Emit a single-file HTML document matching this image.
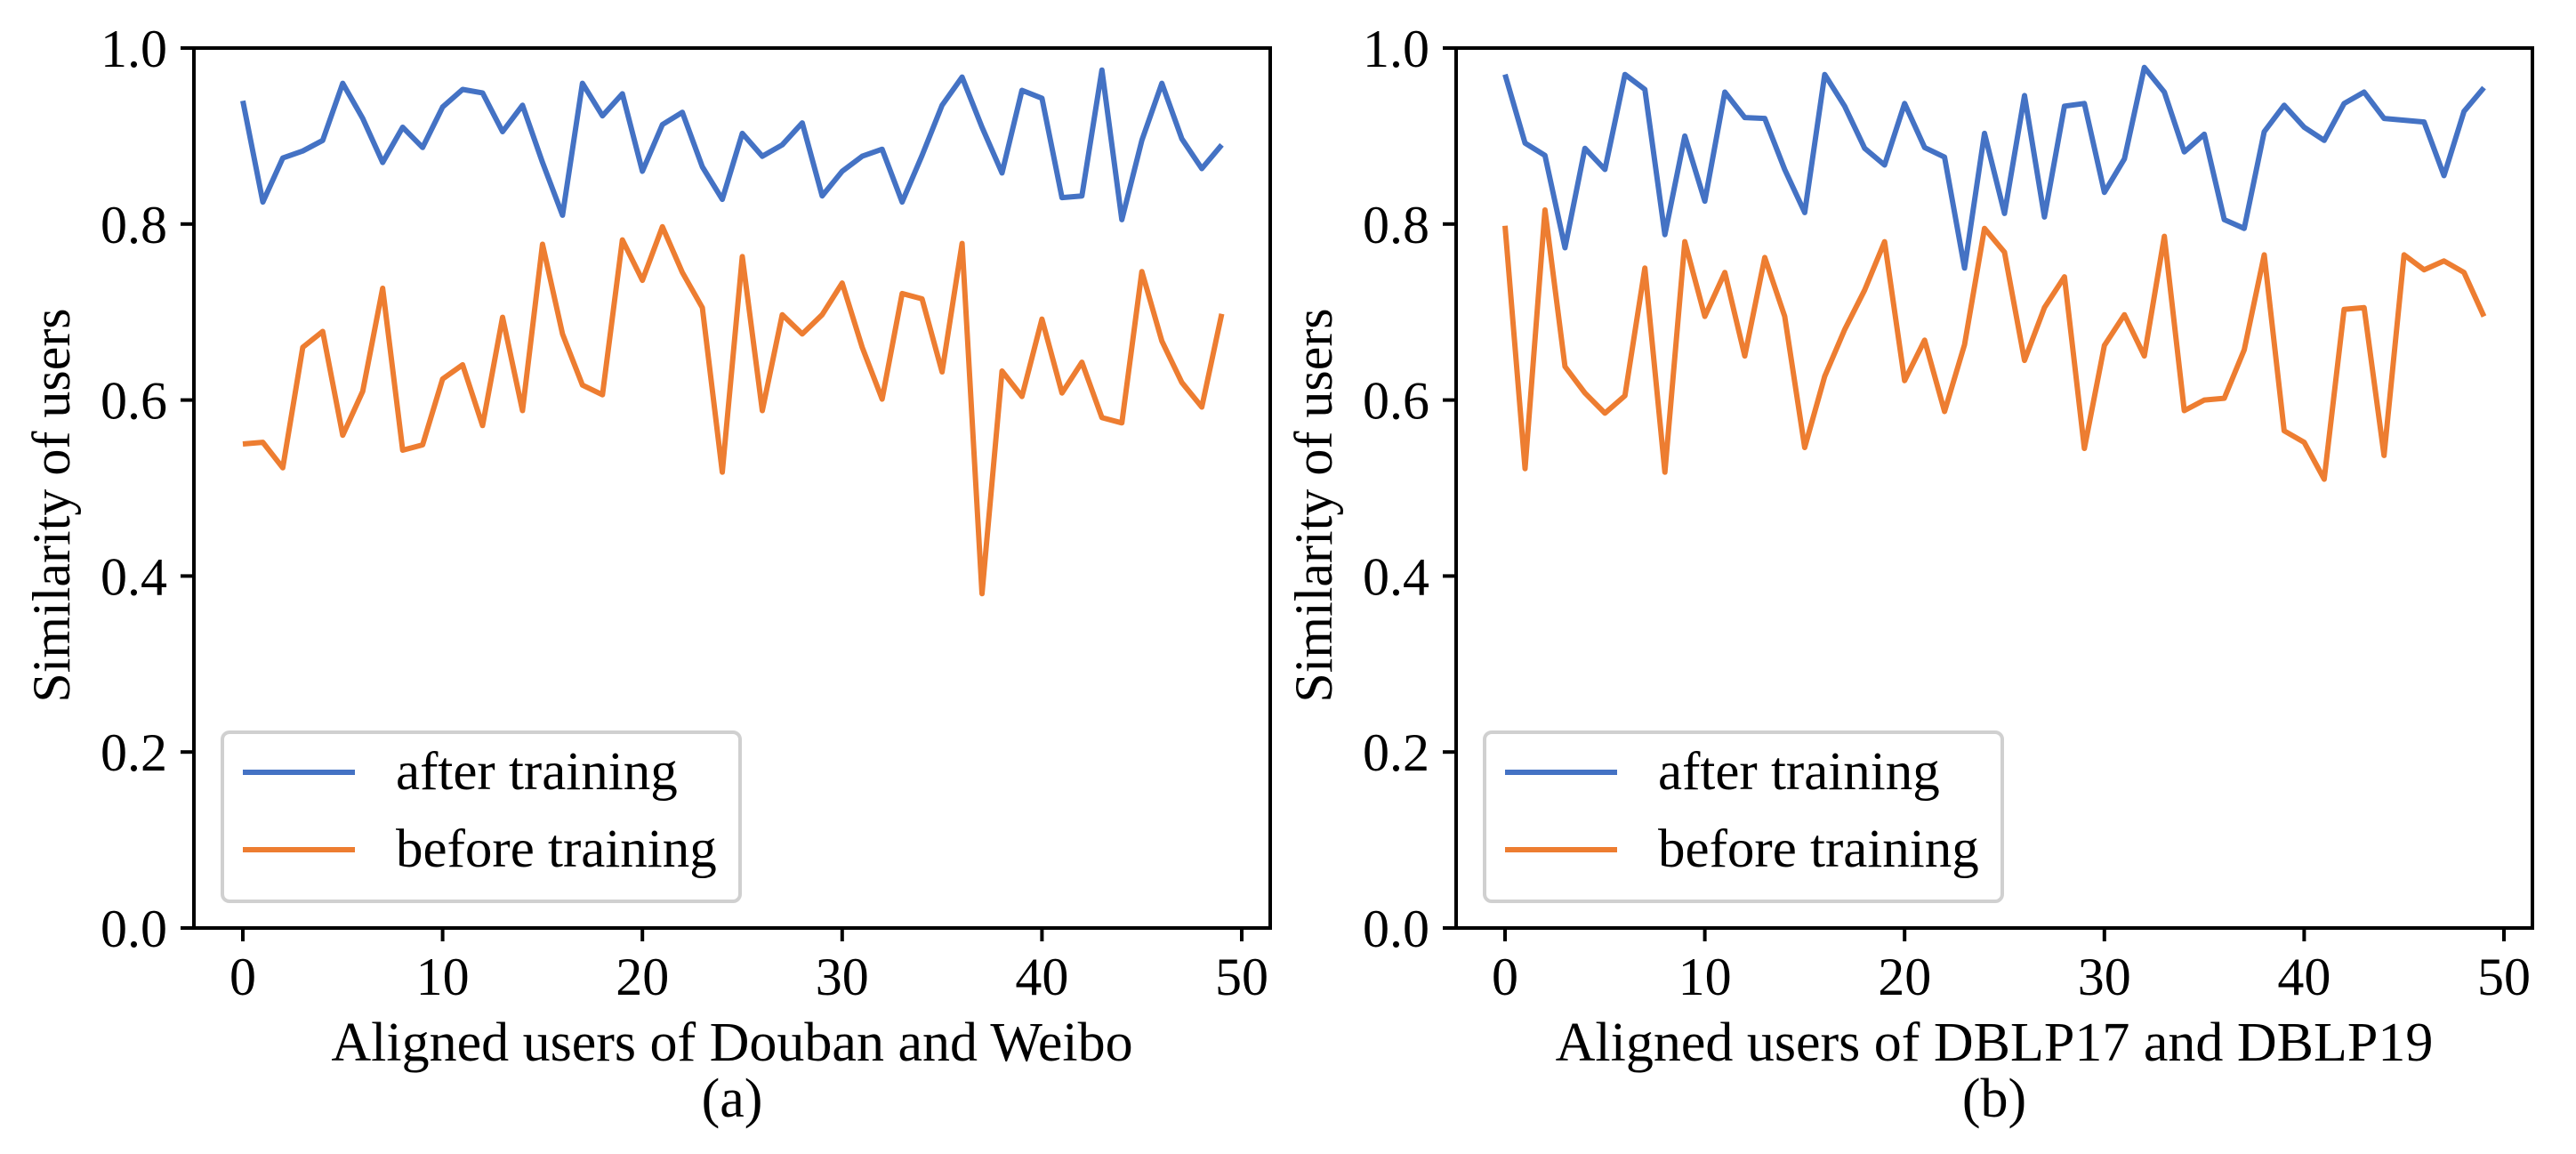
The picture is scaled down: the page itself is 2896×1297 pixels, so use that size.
<!DOCTYPE html>
<html><head><meta charset="utf-8"><style>
body{margin:0;background:#fff;}
svg{display:block;}
text{font-family:"Liberation Serif",serif;fill:#000;}
</style></head><body>
<svg id="chart" width="2896" height="1297" viewBox="0 0 2896 1297" xmlns="http://www.w3.org/2000/svg"></svg>
<script>
const xTicks=[0,10,20,30,40,50];
const yTicks=[0.0,0.2,0.4,0.6,0.8,1.0];
const afterA=[0.94,0.825,0.875,0.883,0.895,0.96,0.92,0.87,0.91,0.887,0.933,0.953,0.949,0.905,0.935,0.87,0.81,0.96,0.923,0.948,0.86,0.913,0.927,0.865,0.828,0.903,0.877,0.89,0.915,0.832,0.86,0.877,0.885,0.825,0.878,0.935,0.967,0.91,0.858,0.952,0.943,0.83,0.832,0.975,0.805,0.895,0.96,0.897,0.863,0.89];
const beforeA=[0.55,0.552,0.523,0.66,0.678,0.56,0.61,0.727,0.543,0.549,0.624,0.64,0.571,0.694,0.588,0.777,0.675,0.617,0.606,0.782,0.736,0.797,0.745,0.705,0.518,0.763,0.588,0.697,0.675,0.697,0.733,0.66,0.601,0.721,0.715,0.632,0.778,0.38,0.633,0.604,0.692,0.608,0.643,0.58,0.574,0.746,0.667,0.62,0.592,0.698];
const afterB=[0.97,0.892,0.878,0.773,0.886,0.862,0.97,0.953,0.788,0.9,0.826,0.95,0.921,0.92,0.862,0.813,0.97,0.934,0.886,0.867,0.937,0.887,0.876,0.75,0.903,0.812,0.946,0.808,0.934,0.937,0.836,0.874,0.978,0.95,0.882,0.902,0.805,0.795,0.905,0.935,0.91,0.895,0.937,0.95,0.92,0.918,0.916,0.855,0.928,0.955];
const beforeB=[0.798,0.522,0.816,0.638,0.608,0.585,0.605,0.75,0.518,0.78,0.695,0.745,0.65,0.762,0.695,0.546,0.627,0.68,0.725,0.78,0.622,0.668,0.587,0.663,0.795,0.768,0.645,0.705,0.74,0.545,0.662,0.697,0.65,0.786,0.588,0.6,0.602,0.657,0.765,0.565,0.552,0.51,0.703,0.705,0.537,0.765,0.748,0.758,0.745,0.695];
const seriesNames=["after training","before training"];
const panels=[
 {id:"a",left:218,xlabel:"Aligned users of Douban and Weibo",cap:"(a)",after:afterA,before:beforeA},
 {id:"b",left:1637,xlabel:"Aligned users of DBLP17 and DBLP19",cap:"(b)",after:afterB,before:beforeB}
];
const NS="http://www.w3.org/2000/svg";
const svg=document.getElementById('chart');
function mk(tag,attrs,parent,txt){const e=document.createElementNS(NS,tag);for(const k in attrs)e.setAttribute(k,attrs[k]);if(txt!==undefined)e.textContent=txt;parent.appendChild(e);return e;}
const TOP=54,BOT=1043,W=1210;
panels.forEach(p=>{
 const g=mk('g',{},svg);
 
 
 const L=p.left;
 const xs=v=>L+55+v*(1123/50);
 const ys=v=>BOT-v*(BOT-TOP);
 const lines=[[p.after,'#4472c4','after'],[p.before,'#ed7d31','before']];
 lines.forEach(([d,c,n])=>{
  const pts=d.map((v,i)=>xs(i).toFixed(1)+','+ys(v).toFixed(1)).join(' ');
  const pl=mk('polyline',{points:pts,fill:'none',stroke:c,'stroke-width':6,'stroke-linejoin':'round'},g);
  
  
 });
 const fr=mk('rect',{x:L,y:TOP,width:W,height:BOT-TOP,fill:'none',stroke:'#000','stroke-width':4},g);
 
 
 xTicks.forEach(t=>{
  mk('line',{x1:xs(t),x2:xs(t),y1:BOT,y2:BOT+15,stroke:'#000','stroke-width':4},g);
  const tx=mk('text',{x:xs(t),y:1118,'font-size':60,'text-anchor':'middle'},g,String(t));
  
  
 });
 yTicks.forEach(t=>{
  mk('line',{x1:L-15,x2:L,y1:ys(t),y2:ys(t),stroke:'#000','stroke-width':4},g);
  const tx=mk('text',{x:L-30,y:ys(t)+21,'font-size':60,'text-anchor':'end'},g,t.toFixed(1));
  
  
 });
 const yl=mk('text',{x:0,y:0,'font-size':60,'text-anchor':'middle',transform:`translate(${L-140},568) rotate(-90)`},g,'Similarity of users');
 
 
 const xl=mk('text',{x:L+W/2,y:1192,'font-size':62,'text-anchor':'middle'},g,p.xlabel);
 
 
 const cp=mk('text',{x:L+W/2,y:1255,'font-size':62,'text-anchor':'middle'},g,p.cap);
 
 
 const lg=mk('g',{},g);
 
 
 mk('rect',{x:L+32,y:823,width:582,height:190,rx:8,fill:'#fff',stroke:'#d0d0d0','stroke-width':4},lg);
 [['#4472c4',868],['#ed7d31',955]].forEach(([c,y],i)=>{
  mk('line',{x1:L+55,x2:L+181,y1:y,y2:y,stroke:c,'stroke-width':6},lg);
  const t=mk('text',{x:L+227,y:y+19,'font-size':61},lg,seriesNames[i]);
  
  
 });
});
</script>
</body></html>
